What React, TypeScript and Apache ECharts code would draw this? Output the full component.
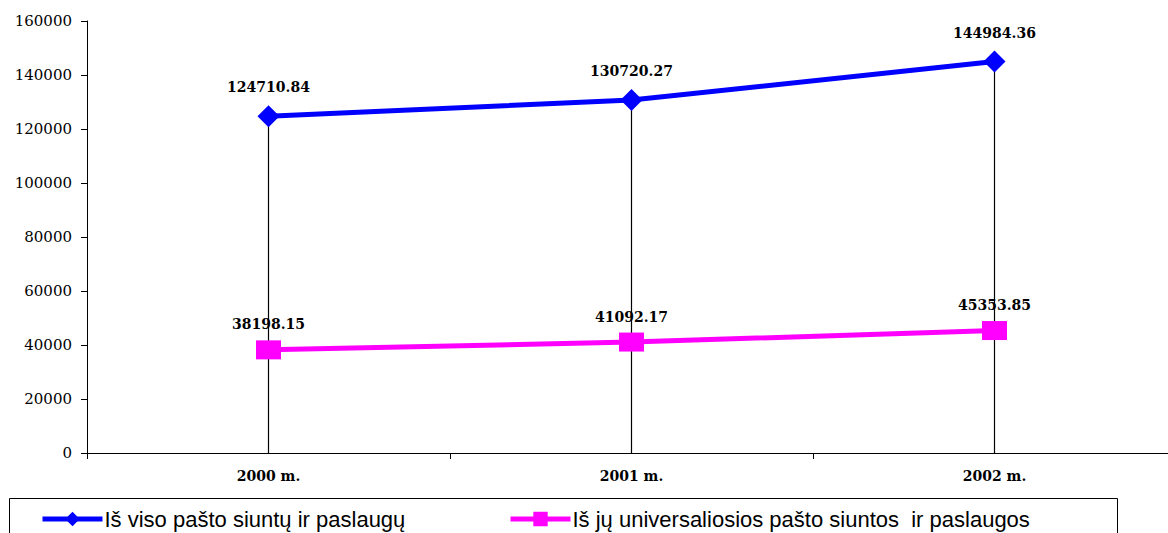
import React, { useEffect, useRef } from "react";
import * as echarts from "echarts";

const categories = ["2000 m.", "2001 m.", "2002 m."];
const totalValues = [124710.84, 130720.27, 144984.36];
const universalValues = [38198.15, 41092.17, 45353.85];
const totalName = "Iš viso pašto siuntų ir paslaugų";
const universalName = "Iš jų universaliosios pašto siuntos  ir paslaugos";

export default function App() {
  const ref = useRef<HTMLDivElement>(null);
  useEffect(() => {
    const chart = echarts.init(ref.current!, null, { renderer: "svg" });
    const labelStyle = (distance: number) => ({
      show: true,
      position: "top" as const,
      distance,
      fontFamily: "DejaVu Serif",
      fontWeight: "bold" as const,
      fontSize: 14,
      color: "#000",
      formatter: (p: any) => p.value.toFixed(2),
    });
    const legendText = { fontFamily: "Liberation Sans", fontSize: 22, color: "#000", padding: [0, 0, 0, -3] };
    chart.setOption({
      animation: false,
      backgroundColor: "#fff",
      grid: { left: 87, top: 21, bottom: 80, width: 1089, containLabel: false, outerBoundsMode: "none" },
      graphic: [
        {
          type: "rect",
          shape: { x: 9.5, y: 498.5, width: 1108, height: 50 },
          style: { fill: "#fff", stroke: "#000", lineWidth: 1 },
          z: -1,
        },
      ],
      legend: [
        {
          data: [totalName],
          left: 40,
          top: 508,
          padding: 0,
          itemWidth: 60,
          itemHeight: 18,
          lineStyle: { width: 5 },
          textStyle: legendText,
        },
        {
          data: [universalName],
          left: 508,
          top: 508,
          padding: 0,
          itemWidth: 60,
          itemHeight: 18,
          lineStyle: { width: 5 },
          textStyle: legendText,
        },
      ],
      xAxis: {
        type: "category",
        data: categories,
        boundaryGap: true,
        axisLine: { lineStyle: { color: "#000", width: 1 } },
        axisTick: { show: true, length: 6, lineStyle: { color: "#000" } },
        axisLabel: {
          margin: 16,
          fontFamily: "DejaVu Serif",
          fontWeight: "bold",
          fontSize: 14,
          color: "#000",
        },
      },
      yAxis: {
        type: "value",
        min: 0,
        max: 160000,
        interval: 20000,
        axisLine: { show: true, lineStyle: { color: "#000", width: 1 } },
        axisTick: { show: true, length: 6, lineStyle: { color: "#000" } },
        splitLine: { show: false },
        axisLabel: {
          margin: 15,
          fontFamily: "DejaVu Serif",
          fontSize: 15,
          color: "#000",
          formatter: (v: number) => String(v),
        },
      },
      series: [
        {
          name: "drop",
          type: "bar",
          data: totalValues,
          barWidth: 1.2,
          itemStyle: { color: "#000" },
          z: 1,
          silent: true,
        },
        {
          name: totalName,
          type: "line",
          data: totalValues,
          symbol: "diamond",
          symbolSize: 22,
          lineStyle: { color: "#0000FF", width: 5 },
          itemStyle: { color: "#0000FF" },
          label: labelStyle(11),
          z: 3,
        },
        {
          name: universalName,
          type: "line",
          data: universalValues,
          symbol: "rect",
          symbolSize: [25, 19],
          lineStyle: { color: "#FF00FF", width: 5 },
          itemStyle: { color: "#FF00FF" },
          label: labelStyle(9),
          z: 3,
        },
      ],
    });
    return () => chart.dispose();
  }, []);
  return (
    <div
      ref={ref}
      style={{ position: "absolute", left: 0, top: 0, width: 1168, height: 533 }}
    />
  );
}
